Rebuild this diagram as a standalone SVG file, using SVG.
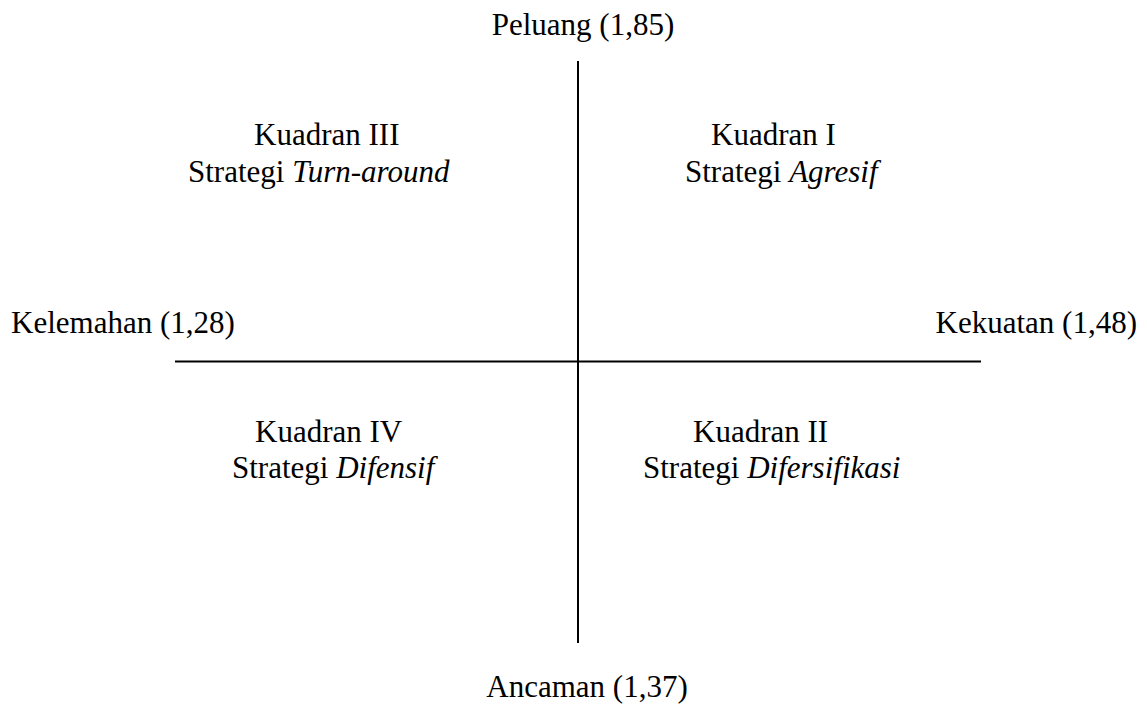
<svg xmlns="http://www.w3.org/2000/svg" width="1147" height="704" viewBox="0 0 1147 704">
<style>
text{font-family:"Liberation Serif","Times New Roman",serif;font-size:31px;fill:#000}
.c{text-anchor:middle}
.i{font-style:italic}
.ax{stroke:#000;stroke-width:2;fill:none}
</style>
<rect width="1147" height="704" fill="#fff"/>
<g id="axes">
<line class="ax" x1="578" y1="61" x2="578" y2="643"/>
<line class="ax" x1="175" y1="361.5" x2="981" y2="361.5"/>
</g>
<g id="label-top"><text class="c" x="583" y="35">Peluang (1,85)</text></g>
<g id="label-bottom"><text class="c" x="587" y="697">Ancaman (1,37)</text></g>
<g id="label-left"><text x="11" y="333">Kelemahan (1,28)</text></g>
<g id="label-right"><text x="1137" y="333" text-anchor="end">Kekuatan (1,48)</text></g>
<g id="q3"><text x="254" y="145">Kuadran III</text><text x="188" y="182">Strategi <tspan class="i">Turn-around</tspan></text></g>
<g id="q1"><text x="711" y="145">Kuadran I</text><text x="685" y="182">Strategi <tspan class="i">Agresif</tspan></text></g>
<g id="q4"><text x="255" y="442">Kuadran IV</text><text x="232" y="478">Strategi <tspan class="i">Difensif</tspan></text></g>
<g id="q2"><text x="693" y="442">Kuadran II</text><text x="643" y="478">Strategi <tspan class="i">Difersifikasi</tspan></text></g>
</svg>
